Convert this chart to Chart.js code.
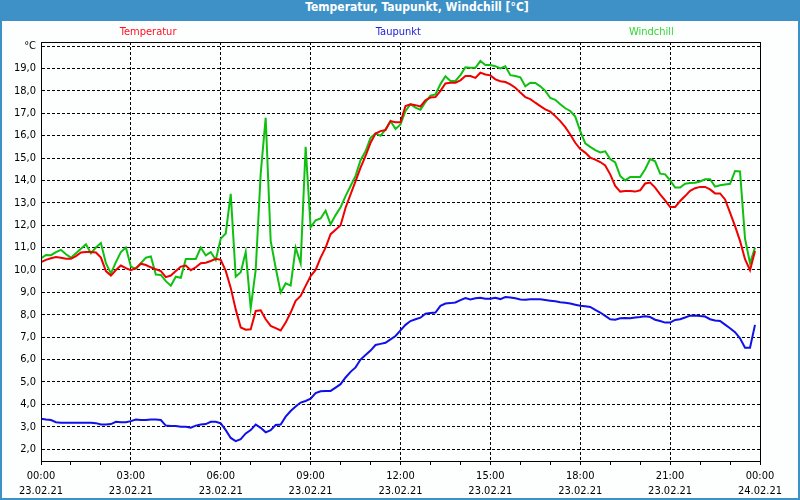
<!DOCTYPE html>
<html>
<head>
<meta charset="utf-8">
<script src="https://cdn.jsdelivr.net/npm/chart.js@4"></script>
<style>
  html, body { margin: 0; padding: 0; background: #fff; }
  #frame {
    position: relative; width: 800px; height: 500px; box-sizing: border-box;
    border: 2px solid #3d91c6; border-top: none; background: #fdfefe;
  }
  #title {
    height: 21px; line-height: 20px; background: #3d91c6; color: #fff;
    font: bold 12px "DejaVu Sans Condensed", "DejaVu Sans", sans-serif;
    text-align: center; padding-left: 34px; margin: 0 -2px;
  }
  #wrap { position: absolute; left: 0; top: 21px; width: 796px; height: 477px; }
</style>
</head>
<body>
<div id="frame">
  <div id="title">Temperatur, Taupunkt, Windchill [°C]</div>
  <div id="wrap"><canvas id="wetter" width="796" height="477"></canvas></div>
</div>
<script>
// Zeitachse: Messwerte alle 10 Minuten ab 00:00
const minutes = [];
for (let i = 0; i < 144; ++i) {
    minutes.push(i * 10);
}

const xTickTimes = ['00:00', '03:00', '06:00', '09:00', '12:00', '15:00', '18:00', '21:00', '00:00'];
const xTickDates = ['23.02.21', '23.02.21', '23.02.21', '23.02.21', '23.02.21', '23.02.21', '23.02.21', '23.02.21', '24.02.21'];
const yTicks = [2, 3, 4, 5, 6, 7, 8, 9, 10, 11, 12, 13, 14, 15, 16, 17, 18, 19, 20];

const temperatur = [
    10.35, 10.45, 10.52, 10.58, 10.55, 10.5, 10.5, 10.62, 10.78, 10.8,
    10.8, 10.78, 10.55, 9.95, 9.75, 10.0, 10.2, 10.08, 9.99, 10.08,
    10.28, 10.22, 10.12, 10.03, 9.95, 9.68, 9.75, 9.95, 10.15, 10.2,
    9.99, 10.12, 10.3, 10.32, 10.4, 10.5, 10.45, 9.96, 9.2, 8.24,
    7.43, 7.33, 7.35, 8.17, 8.2, 7.8, 7.5, 7.4, 7.3, 7.65,
    8.1, 8.62, 8.84, 9.29, 9.73, 10.0, 10.55, 11.0, 11.6, 11.8,
    12.0, 12.78, 13.38, 13.97, 14.57, 15.09, 15.68, 16.09, 16.2, 16.25,
    16.65, 16.6, 16.6, 17.32, 17.4, 17.36, 17.3, 17.58, 17.7, 17.72,
    18.0, 18.33, 18.36, 18.36, 18.47, 18.66, 18.66, 18.58, 18.81, 18.73,
    18.69, 18.51, 18.43, 18.39, 18.29, 18.14, 17.92, 17.72, 17.63, 17.47,
    17.32, 17.17, 17.07, 16.87, 16.65, 16.38, 16.05, 15.68, 15.4, 15.24,
    15.02, 14.93, 14.82, 14.67, 14.27, 13.75, 13.5, 13.53, 13.53, 13.5,
    13.56, 13.86, 13.9, 13.68, 13.38, 13.11, 12.81, 12.81, 13.08, 13.3,
    13.53, 13.65, 13.71, 13.71, 13.6, 13.42, 13.42, 13.15, 12.56, 11.96,
    11.3, 10.48, 9.99, 10.85
];

const taupunkt = [
    3.36, 3.32, 3.3, 3.2, 3.18, 3.18, 3.18, 3.18, 3.18, 3.18,
    3.18, 3.16, 3.1, 3.1, 3.12, 3.22, 3.2, 3.2, 3.25, 3.32,
    3.3, 3.3, 3.32, 3.32, 3.3, 3.05, 3.03, 3.03, 3.0, 3.0,
    2.96, 3.05, 3.1, 3.12, 3.22, 3.22, 3.15, 2.85, 2.5, 2.36,
    2.45, 2.7, 2.85, 3.1, 2.95, 2.75, 2.85, 3.08, 3.1, 3.45,
    3.7, 3.9, 4.08, 4.15, 4.25, 4.5, 4.58, 4.6, 4.6, 4.75,
    4.9, 5.2, 5.45, 5.65, 6.0, 6.2, 6.4, 6.65, 6.7, 6.75,
    6.9, 7.05, 7.3, 7.55, 7.72, 7.8, 7.87, 8.05, 8.08, 8.1,
    8.4, 8.5, 8.52, 8.55, 8.65, 8.75, 8.68, 8.74, 8.76, 8.72,
    8.72, 8.76, 8.7, 8.79, 8.77, 8.74, 8.68, 8.67, 8.69, 8.69,
    8.69, 8.66, 8.63, 8.6, 8.56, 8.54, 8.5, 8.45, 8.4, 8.38,
    8.35, 8.22, 8.1, 7.95, 7.8, 7.78, 7.84, 7.85, 7.84, 7.88,
    7.9, 7.93, 7.9, 7.78, 7.72, 7.65, 7.65, 7.77, 7.8, 7.88,
    7.96, 7.97, 7.94, 7.92, 7.8, 7.74, 7.72, 7.56, 7.4, 7.22,
    6.95, 6.53, 6.53, 7.55
];

const windchill = [
    10.52, 10.67, 10.66, 10.8, 10.9, 10.7, 10.55, 10.75, 10.95, 11.15,
    10.75, 11.0, 11.2, 10.3, 9.85, 10.35, 10.8, 11.0, 10.15, 10.05,
    10.3, 10.55, 10.6, 9.8, 9.78, 9.5, 9.3, 9.7, 9.65, 10.49,
    10.49, 10.49, 11.0, 10.65, 10.8, 10.45, 11.4, 11.63, 13.4, 9.7,
    9.9, 10.8, 8.3, 10.0, 14.3, 16.8, 11.3, 10.1, 9.0, 9.4,
    9.3, 11.0, 10.3, 15.5, 11.9, 12.22, 12.3, 12.65, 12.04, 12.45,
    12.8, 13.3, 13.75, 14.2, 14.9, 15.3, 15.9, 16.1, 15.99, 16.28,
    16.65, 16.3, 16.5, 17.1, 17.4, 17.25, 17.15, 17.5, 17.78, 17.84,
    18.3, 18.65, 18.44, 18.44, 18.7, 19.05, 19.03, 19.03, 19.33, 19.15,
    19.15, 19.1, 19.0, 19.1, 18.7, 18.66, 18.6, 18.2, 18.36, 18.35,
    18.2, 18.0, 17.68, 17.6, 17.4, 17.22, 17.1, 16.85, 16.2, 15.65,
    15.5, 15.35, 15.25, 15.3, 14.95, 14.8, 14.2, 14.0, 14.15, 14.15,
    14.15, 14.5, 14.95, 14.85, 14.3, 14.27, 14.0, 13.68, 13.68, 13.85,
    13.88, 13.9, 13.95, 14.05, 14.05, 13.72, 13.78, 13.82, 13.85, 14.42,
    14.4, 11.4, 10.3, 11.0
];

const FONT = '"DejaVu Sans Condensed", "DejaVu Sans", sans-serif';

function points(values) {
    return values.map((v, i) => ({ x: minutes[i], y: v }));
}

// Legende ueber der Zeichenflaeche, wie im Original verteilt
const legendLabels = {
    id: 'legendLabels',
    afterDraw(chart) {
        const { ctx, chartArea } = chart;
        const pos = [0.149, 0.497, 0.849];
        const colors = ['#ff1020', '#2222d8', '#33d633'];
        ctx.save();
        ctx.font = '11px ' + FONT;
        ctx.textAlign = 'center';
        ctx.textBaseline = 'middle';
        chart.data.datasets.forEach((ds, i) => {
            ctx.fillStyle = colors[i];
            ctx.fillText(ds.label, chartArea.left + pos[i] * (chartArea.right - chartArea.left), 11);
        });
        ctx.restore();
    }
};

// Rahmen um die Zeichenflaeche
const frameBox = {
    id: 'frameBox',
    afterDraw(chart) {
        const { ctx, chartArea } = chart;
        ctx.save();
        ctx.strokeStyle = '#000';
        ctx.lineWidth = 1;
        ctx.strokeRect(Math.round(chartArea.left) + 0.5, Math.round(chartArea.top) + 0.5,
            Math.round(chartArea.right - chartArea.left), Math.round(chartArea.bottom - chartArea.top));
        ctx.restore();
    }
};

const ctx = document.getElementById('wetter').getContext('2d');

new Chart(ctx, {
    type: 'line',
    data: {
        datasets: [
            {
                label: 'Temperatur',
                data: points(temperatur),
                borderColor: '#f00000',
                borderWidth: 2,
                pointRadius: 0,
                tension: 0
            },
            {
                label: 'Taupunkt',
                data: points(taupunkt),
                borderColor: '#1010e8',
                borderWidth: 2,
                pointRadius: 0,
                tension: 0
            },
            {
                label: 'Windchill',
                data: points(windchill),
                borderColor: '#10c010',
                borderWidth: 2,
                pointRadius: 0,
                tension: 0
            }
        ]
    },
    options: {
        responsive: false,
        animation: false,
        layout: { padding: { top: 21, right: 38, left: 0, bottom: 0 } },
        plugins: {
            legend: { display: false },
            title: { display: false },
            tooltip: { enabled: false }
        },
        scales: {
            x: {
                type: 'linear',
                min: 0,
                max: 1440,
                afterFit(scale) { scale.height = 37; },
                ticks: {
                    stepSize: 60,
                    autoSkip: false,
                    maxRotation: 0,
                    padding: 4,
                    color: '#000',
                    font: { family: FONT, size: 11, lineHeight: 1.35 },
                    callback(value) {
                        if (value % 180 !== 0) return '';
                        const i = value / 180;
                        return [xTickTimes[i], xTickDates[i]];
                    }
                },
                grid: {
                    color: (c) => (c.tick && c.tick.value % 180 === 0) ? '#000' : 'rgba(0,0,0,0)',
                    tickColor: '#000',
                    tickLength: 4,
                    tickBorderDash: []
                },
                border: { color: '#000', dash: [3, 2] }
            },
            y: {
                min: 1.47,
                max: 20.18,
                afterFit(scale) { scale.width = 39; },
                afterBuildTicks(scale) {
                    scale.ticks = yTicks.map(v => ({ value: v }));
                },
                ticks: {
                    padding: 5,
                    color: '#000',
                    font: { family: FONT, size: 11 },
                    callback(value) {
                        return value === 20 ? '°C' : value.toFixed(1).replace('.', ',');
                    }
                },
                grid: {
                    color: '#000',
                    drawTicks: false
                },
                border: { color: '#000', dash: [3, 2] }
            }
        }
    },
    plugins: [legendLabels, frameBox]
});
</script>
</body>
</html>
